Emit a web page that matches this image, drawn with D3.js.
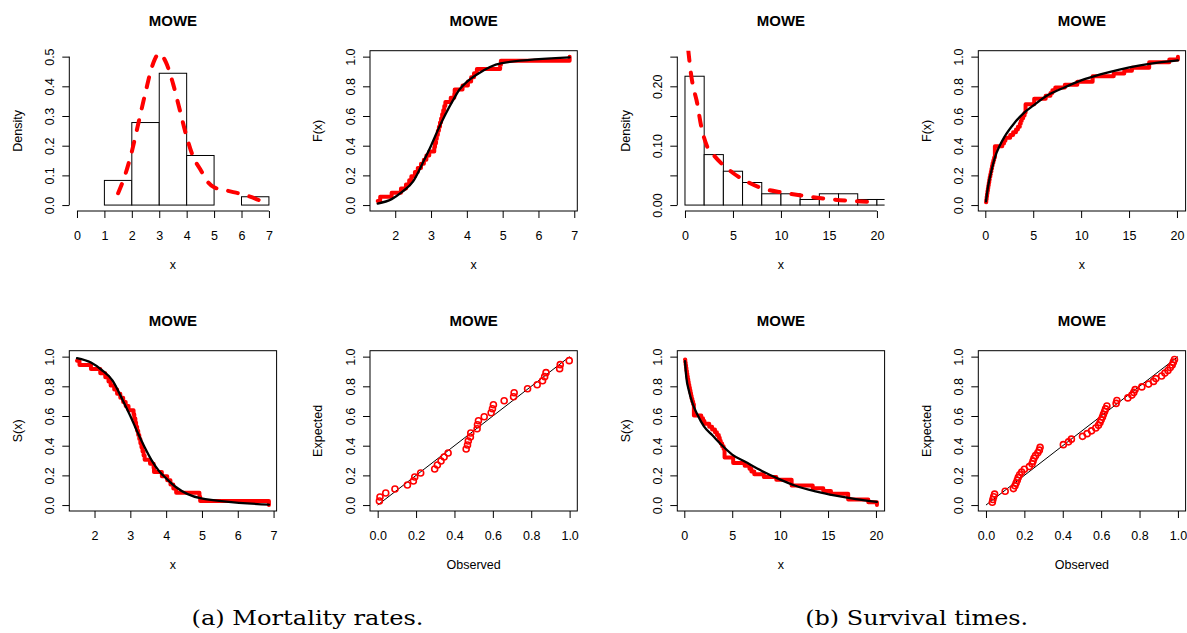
<!DOCTYPE html>
<html>
<head lang="en">
    <meta charset="UTF-8">
    <title>MOWE fits</title>
    <script src="https://cdnjs.cloudflare.com/ajax/libs/d3/7.8.5/d3.min.js"></script>

    <style>
        body { margin: 0; background: #fff; }
        svg { display: block; font-family: "Liberation Sans", Arial, Helvetica, sans-serif; }
        .caption { font-family: "DejaVu Serif", "Liberation Serif", serif; font-size: 21px; }
    </style>
</head>
<body>

<script>

    // ---- data: mortality rates (n = 36) ----
    var mortality = [1.51, 1.58, 1.90, 2.16, 2.30, 2.39, 2.45, 2.55, 2.63, 2.72, 2.80, 2.87, 2.95,
        3.09, 3.11, 3.14, 3.16, 3.19, 3.22, 3.25, 3.28, 3.31, 3.34, 3.37, 3.40, 3.55, 3.65, 3.66, 3.88,
        4.03, 4.12, 4.20, 4.28, 4.93, 4.95, 6.87];
    var mortBreaks = [1, 2, 3, 4, 5, 6, 7];
    var mortDensity = [0.083, 0.278, 0.444, 0.167, 0, 0.028];
    var mortPdfX = [1.5, 1.75, 2.0, 2.25, 2.5, 2.75, 3.0, 3.25, 3.5, 3.75, 4.0, 4.25, 4.5, 4.75, 5.0, 5.5, 6.0, 6.5, 6.9];
    var mortPdfY = [0.04, 0.10, 0.18, 0.28, 0.38, 0.47, 0.51, 0.48, 0.41, 0.32, 0.23, 0.16, 0.12, 0.08, 0.06, 0.048, 0.037, 0.022, 0.005];
    var mortFitX = [1.51, 1.9, 2.2, 2.5, 2.8, 3.0, 3.2, 3.4, 3.6, 3.8, 4.0, 4.28, 4.95, 6.87];
    var mortCdfY = [0.01, 0.04, 0.09, 0.16, 0.30, 0.40, 0.51, 0.61, 0.70, 0.78, 0.83, 0.88, 0.955, 0.995];
    var mortSurvY = [0.99, 0.96, 0.91, 0.84, 0.70, 0.60, 0.49, 0.39, 0.30, 0.23, 0.18, 0.12, 0.047, 0.003];
    var mortPPx = [0.009, 0.012, 0.042, 0.09, 0.155, 0.186, 0.193, 0.224, 0.297, 0.311, 0.33, 0.346, 0.367,
        0.461, 0.468, 0.472, 0.483, 0.485, 0.518, 0.52, 0.525, 0.555, 0.591, 0.598, 0.603, 0.659, 0.708,
        0.711, 0.781, 0.831, 0.859, 0.87, 0.877, 0.948, 0.951, 0.998];
    var mortPPy = [0.027, 0.054, 0.081, 0.108, 0.135, 0.162, 0.189, 0.216, 0.243, 0.270, 0.297, 0.324,
        0.351, 0.378, 0.405, 0.432, 0.459, 0.486, 0.514, 0.541, 0.568, 0.595, 0.622, 0.649, 0.676, 0.703,
        0.730, 0.757, 0.784, 0.811, 0.838, 0.865, 0.892, 0.919, 0.946, 0.973];

    // ---- data: survival times (n = 53) ----
    var survival = [0.07, 0.10, 0.14, 0.18, 0.22, 0.27, 0.31, 0.36, 0.41, 0.46, 0.52, 0.58, 0.64, 0.70,
        0.76, 0.84, 0.92, 1.00, 1.00, 1.00, 1.00, 1.77, 1.95, 2.10, 2.60, 2.90, 3.20, 3.40, 3.60, 3.70,
        3.80, 3.95, 4.10, 4.20, 4.20, 4.20, 5.10, 5.10, 6.30, 6.80, 7.00, 7.30, 8.30, 9.60, 11.20, 11.20,
        13.40, 14.50, 15.30, 17.10, 17.10, 19.20, 20.10];
    var survBreaks = [0, 2, 4, 6, 8, 10, 12, 14, 16, 18, 20, 22];
    var survDensity = [0.217, 0.085, 0.057, 0.038, 0.019, 0.019, 0.0094, 0.019, 0.019, 0.0094, 0.0094];
    var survPdfX = [0.35, 0.67, 1.0, 1.2, 1.7, 2.3, 3.0, 4.0, 5.0, 6.4, 8.1, 10.2, 12.6, 15.4, 17.8, 20.0];
    var survPdfY = [0.26, 0.216, 0.19, 0.177, 0.132, 0.099, 0.084, 0.067, 0.054, 0.040, 0.028, 0.021, 0.015, 0.0095, 0.0067, 0.005];
    var survCdfX = [0.07, 0.3, 0.6, 1.0, 1.5, 2.0, 3.0, 4.0, 5.0, 6.5, 8.0, 10.0, 12.0, 14.0, 16.0, 18.0, 20.1];
    var survCdfY = [0.025, 0.13, 0.22, 0.32, 0.40, 0.46, 0.55, 0.62, 0.67, 0.74, 0.785, 0.84, 0.88, 0.913, 0.94, 0.96, 0.975];
    var survSurvX = [0.07, 0.21, 0.48, 0.83, 1.36, 2.05, 2.93, 3.97, 5.0, 6.4, 8.1, 9.9, 11.6, 13.7, 15.8, 17.9, 20.1];
    var survSurvY = [0.97, 0.86, 0.77, 0.69, 0.61, 0.53, 0.47, 0.40, 0.34, 0.29, 0.23, 0.175, 0.13, 0.092, 0.063, 0.04, 0.022];
    var survPPx = [0.033, 0.036, 0.04, 0.045, 0.10, 0.143, 0.151, 0.157, 0.163, 0.168, 0.175, 0.186, 0.20,
        0.226, 0.24, 0.245, 0.25, 0.258, 0.27, 0.278, 0.282, 0.403, 0.43, 0.445, 0.503, 0.527, 0.55, 0.572,
        0.586, 0.594, 0.60, 0.607, 0.612, 0.618, 0.623, 0.63, 0.678, 0.682, 0.739, 0.76, 0.77, 0.777, 0.812,
        0.847, 0.873, 0.885, 0.915, 0.932, 0.948, 0.96, 0.97, 0.976, 0.982];
    var survPPy = [0.019, 0.037, 0.056, 0.074, 0.093, 0.111, 0.130, 0.148, 0.167, 0.185, 0.204, 0.222,
        0.241, 0.259, 0.278, 0.296, 0.315, 0.333, 0.352, 0.370, 0.389, 0.407, 0.426, 0.444, 0.463, 0.481,
        0.500, 0.519, 0.537, 0.556, 0.574, 0.593, 0.611, 0.630, 0.648, 0.667, 0.685, 0.704, 0.722, 0.741,
        0.759, 0.778, 0.796, 0.815, 0.833, 0.852, 0.870, 0.889, 0.907, 0.926, 0.944, 0.963, 0.981];

    // ---- ticks ----
    var ticksProb = [0, 0.2, 0.4, 0.6, 0.8, 1];
    var labelsProb = ["0.0", "0.2", "0.4", "0.6", "0.8", "1.0"];
    var ticksMortX = [2, 3, 4, 5, 6, 7];
    var ticksMortHist = [0, 1, 2, 3, 4, 5, 6, 7];
    var ticksMortDens = [0, 0.1, 0.2, 0.3, 0.4, 0.5];
    var labelsMortDens = ["0.0", "0.1", "0.2", "0.3", "0.4", "0.5"];
    var ticksSurvX = [0, 5, 10, 15, 20];
    var ticksSurvDens = [0, 0.05, 0.10, 0.15, 0.20, 0.25];
    var labelsSurvDens = ["0.00", "", "0.10", "", "0.20", ""];

    var width = 1187,
            height = 633;

    var colLeft = [69.3, 370, 677.3, 978.3],
            rowTop = [50.7, 350.7],
            pw = 207.3,
            ph = 160.3;

    var svg = d3.select("body").append("svg")
            .attr("width", width)
            .attr("height", height);
    var defs = svg.append("defs");

    // R pads the data range by 4% on each side
    function pad(a, b) {
        var d = (b - a) * 0.04;
        return [a - d, b + d];
    }

    function panel(c, r, xd, yd) {
        var g = svg.append("g").attr("transform", "translate(" + colLeft[c] + "," + rowTop[r] + ")");
        var id = "clip" + c + r;
        defs.append("clipPath").attr("id", id)
                .append("rect").attr("width", pw).attr("height", ph);
        var x = d3.scaleLinear().domain(xd).range([0, pw]);
        var y = d3.scaleLinear().domain(yd).range([ph, 0]);
        var plot = g.append("g").attr("clip-path", "url(#" + id + ")");
        return {g: g, plot: plot, x: x, y: y};
    }

    function decorate(p, o) {
        var g = p.g;
        if (o.box) {
            g.append("rect").attr("width", pw).attr("height", ph)
                    .attr("fill", "none").attr("stroke", "#000").attr("stroke-width", 1);
        }

        var xa = g.append("g").attr("transform", "translate(0," + ph + ")")
                .call(d3.axisBottom(p.x).tickValues(o.xt)
                        .tickFormat(function(d, i) { return o.xl ? o.xl[i] : d; })
                        .tickSize(7).tickPadding(13));
        var ya = g.append("g")
                .call(d3.axisLeft(p.y).tickValues(o.yt)
                        .tickFormat(function(d, i) { return o.yl[i]; })
                        .tickSize(7));
        [xa, ya].forEach(function(a) {
            a.attr("font-size", 12.5).attr("font-family", null);
            a.select(".domain").remove();
        });
        ya.selectAll("text")
                .attr("transform", "rotate(-90)")
                .attr("x", 0).attr("y", -15.5).attr("dy", null)
                .attr("text-anchor", "middle");

        if (!o.box) {
            // axis lines span first to last tick only
            g.append("line")
                    .attr("x1", p.x(o.xt[0])).attr("x2", p.x(o.xt[o.xt.length - 1]))
                    .attr("y1", ph).attr("y2", ph).attr("stroke", "#000");
            g.append("line")
                    .attr("y1", p.y(o.yt[0])).attr("y2", p.y(o.yt[o.yt.length - 1]))
                    .attr("x1", 0).attr("x2", 0).attr("stroke", "#000");
        }

        g.append("text").attr("x", pw / 2).attr("y", -25)
                .attr("text-anchor", "middle").attr("font-weight", "bold").attr("font-size", 15)
                .text("MOWE");
        g.append("text").attr("x", pw / 2).attr("y", ph + 58.5)
                .attr("text-anchor", "middle").attr("font-size", 12.5)
                .text(o.xlab);
        g.append("text").attr("transform", "translate(-47.8," + ph / 2 + ") rotate(-90)")
                .attr("text-anchor", "middle").attr("font-size", 12.5)
                .text(o.ylab);
    }

    function hist(p, breaks, dens) {
        p.plot.selectAll("rect.bar")
                .data(dens)
                .enter().append("rect")
                .attr("class", "bar")
                .attr("x", function(d, i) { return p.x(breaks[i]); })
                .attr("width", function(d, i) { return p.x(breaks[i + 1]) - p.x(breaks[i]); })
                .attr("y", function(d) { return p.y(d); })
                .attr("height", function(d) { return p.y(0) - p.y(d); })
                .attr("fill", "#fff").attr("stroke", "#000").attr("stroke-width", 1);
    }

    function curve(p, xs, ys, color, w, dash) {
        var line = d3.line()
                .x(function(d) { return p.x(d[0]); })
                .y(function(d) { return p.y(d[1]); })
                .curve(d3.curveMonotoneX);
        p.plot.append("path")
                .attr("d", line(d3.zip(xs, ys)))
                .attr("fill", "none").attr("stroke", color).attr("stroke-width", w)
                .attr("stroke-linecap", "round").attr("stroke-linejoin", "round")
                .attr("stroke-dasharray", dash || null);
    }

    // empirical distribution (or survival) as a right-continuous step line
    function ecdf(p, sample, surv) {
        var n = sample.length;
        var pts = sample.map(function(v, i) {
            var f = (i + 1) / n;
            return [v, surv ? 1 - f : f];
        });
        var step = d3.line()
                .x(function(d) { return p.x(d[0]); })
                .y(function(d) { return p.y(d[1]); })
                .curve(d3.curveStepAfter);
        p.plot.append("path")
                .attr("d", step(pts))
                .attr("fill", "none").attr("stroke", "red").attr("stroke-width", 4)
                .attr("stroke-linejoin", "round").attr("stroke-linecap", "round");
    }

    function ppplot(p, xs, ys) {
        p.plot.append("line")
                .attr("x1", p.x(0)).attr("y1", p.y(0))
                .attr("x2", p.x(1)).attr("y2", p.y(1))
                .attr("stroke", "#000").attr("stroke-width", 1);
        p.plot.selectAll("circle")
                .data(d3.zip(xs, ys))
                .enter().append("circle")
                .attr("cx", function(d) { return p.x(d[0]); })
                .attr("cy", function(d) { return p.y(d[1]); })
                .attr("r", 3)
                .attr("fill", "none").attr("stroke", "red").attr("stroke-width", 1.6);
    }

    var probDomain = pad(0, 1);
    var mortDomain = pad(d3.min(mortality), d3.max(mortality));
    var survDomain = pad(d3.min(survival), d3.max(survival));

    // (a) mortality: histogram
    var p1 = panel(0, 0, pad(0, 7), pad(0, 0.5));
    hist(p1, mortBreaks, mortDensity);
    curve(p1, mortPdfX, mortPdfY, "red", 4, "10,12");
    decorate(p1, {box: false, xt: ticksMortHist, yt: ticksMortDens, yl: labelsMortDens, xlab: "x", ylab: "Density"});

    // (a) mortality: F(x)
    var p2 = panel(1, 0, mortDomain, probDomain);
    ecdf(p2, mortality, false);
    curve(p2, mortFitX, mortCdfY, "#000", 2.3);
    decorate(p2, {box: true, xt: ticksMortX, yt: ticksProb, yl: labelsProb, xlab: "x", ylab: "F(x)"});

    // (a) mortality: S(x)
    var p5 = panel(0, 1, mortDomain, probDomain);
    ecdf(p5, mortality, true);
    curve(p5, mortFitX, mortSurvY, "#000", 2.3);
    decorate(p5, {box: true, xt: ticksMortX, yt: ticksProb, yl: labelsProb, xlab: "x", ylab: "S(x)"});

    // (a) mortality: P-P
    var p6 = panel(1, 1, probDomain, probDomain);
    ppplot(p6, mortPPx, mortPPy);
    decorate(p6, {box: true, xt: ticksProb, xl: labelsProb, yt: ticksProb, yl: labelsProb, xlab: "Observed", ylab: "Expected"});

    // (b) survival: histogram
    var p3 = panel(2, 0, pad(0, 20), pad(0, 0.25));
    hist(p3, survBreaks, survDensity);
    curve(p3, survPdfX, survPdfY, "red", 4, "10,12");
    decorate(p3, {box: false, xt: ticksSurvX, yt: ticksSurvDens, yl: labelsSurvDens, xlab: "x", ylab: "Density"});

    // (b) survival: F(x)
    var p4 = panel(3, 0, survDomain, probDomain);
    ecdf(p4, survival, false);
    curve(p4, survCdfX, survCdfY, "#000", 2.3);
    decorate(p4, {box: true, xt: ticksSurvX, yt: ticksProb, yl: labelsProb, xlab: "x", ylab: "F(x)"});

    // (b) survival: S(x)
    var p7 = panel(2, 1, survDomain, probDomain);
    ecdf(p7, survival, true);
    curve(p7, survSurvX, survSurvY, "#000", 2.3);
    decorate(p7, {box: true, xt: ticksSurvX, yt: ticksProb, yl: labelsProb, xlab: "x", ylab: "S(x)"});

    // (b) survival: P-P
    var p8 = panel(3, 1, probDomain, probDomain);
    ppplot(p8, survPPx, survPPy);
    decorate(p8, {box: true, xt: ticksProb, xl: labelsProb, yt: ticksProb, yl: labelsProb, xlab: "Observed", ylab: "Expected"});

    // sub-figure captions
    svg.append("text").attr("class", "caption")
            .attr("x", 307.5).attr("y", 625).attr("text-anchor", "middle")
            .attr("textLength", 232).attr("lengthAdjust", "spacingAndGlyphs")
            .text("(a) Mortality rates.");
    svg.append("text").attr("class", "caption")
            .attr("x", 916.7).attr("y", 625).attr("text-anchor", "middle")
            .attr("textLength", 223).attr("lengthAdjust", "spacingAndGlyphs")
            .text("(b) Survival times.");
</script>
</body>
</html>
